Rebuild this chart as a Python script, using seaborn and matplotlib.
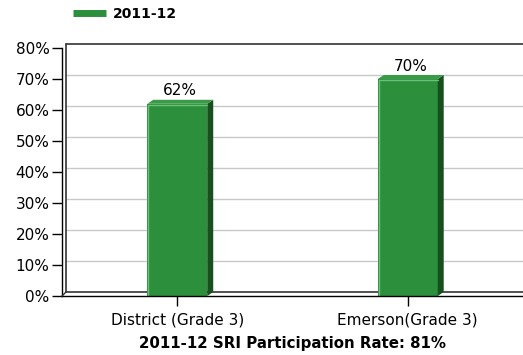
import numpy as np
import pandas as pd
import matplotlib
matplotlib.use("Agg")
import matplotlib.pyplot as plt
import matplotlib.transforms as mtransforms
from matplotlib.patches import Polygon
from matplotlib.lines import Line2D
import seaborn as sns

# data
categories = ["District (Grade 3)", "Emerson(Grade 3)"]
rates = [62, 70]
series_name = "2011-12"
footer = "2011-12 SRI Participation Rate: 81%"

df = pd.DataFrame({"group": categories, "rate": rates})

sns.set_style("white", {"xtick.bottom": True, "ytick.left": True})
plt.rcParams["font.family"] = ["DejaVu Sans"]
plt.rcParams["text.color"] = "black"
plt.rcParams["axes.labelcolor"] = "black"
plt.rcParams["xtick.color"] = "black"
plt.rcParams["ytick.color"] = "black"

face = "#2b8f3c"
side = "#174f1f"
light = "#6cc078"

fig = plt.figure(figsize=(5.23, 3.55), dpi=100)
ax = fig.add_axes([62 / 523, 59 / 355, 461 / 523, 248 / 355])

sns.barplot(data=df, x="group", y="rate", color=face, width=0.26,
            saturation=1, ax=ax, zorder=3, edgecolor="none")

ax.set_ylim(0, 80)
ax.set_xlim(-0.5, 1.5)
ax.set_yticks(np.arange(0, 81, 10))
ax.set_yticklabels([f"{v}%" for v in range(0, 81, 10)], fontsize=11)
ax.tick_params(axis="y", length=7, width=1, color="black", pad=2, left=True)
ax.tick_params(axis="x", length=7, width=1, color="black", labelsize=11, pad=5, bottom=True)
ax.set_xlabel(footer, fontsize=10.8, fontweight="bold", labelpad=6)
ax.set_ylabel("")

for s in ["top", "right"]:
    ax.spines[s].set_visible(False)
for s in ["left", "bottom"]:
    ax.spines[s].set_color("black")
    ax.spines[s].set_linewidth(1)
    ax.spines[s].set_zorder(5)

# back wall of the 3d frame, offset up and right
off = mtransforms.ScaledTranslation(4 / 100, 4 / 100, fig.dpi_scale_trans)
ytr = ax.get_yaxis_transform() + off
xtr = ax.get_xaxis_transform() + off
for v in range(10, 80, 10):
    ax.plot([0, 1], [v, v], color="#c8c8c8", lw=1, zorder=1, transform=ytr)
ax.plot([0, 1], [80, 80], color="#333333", lw=1.2, zorder=2, transform=ytr, clip_on=False)
ax.plot([0, 1], [0, 0], color="#333333", lw=1.2, zorder=2, transform=ytr)
ax.plot([-0.5, -0.5], [0, 1], color="#333333", lw=1.2, zorder=2, transform=xtr, clip_on=False)
corner = Line2D([0, 0.04], [0, 0.04], color="#333333", lw=1, zorder=2,
                transform=fig.dpi_scale_trans + mtransforms.Affine2D().translate(62, 59))
fig.add_artist(corner)

# 3d sides and tops of the bars
inv = ax.transData.inverted()
p0 = inv.transform(ax.transData.transform((0, 0)) + np.array([6, 4]))
dx, dy = p0[0], p0[1]
for p in ax.patches[:len(rates)]:
    x0, w, h = p.get_x(), p.get_width(), p.get_height()
    x1 = x0 + w
    ax.add_patch(Polygon([(x1, 0), (x1 + dx, dy), (x1 + dx, h + dy), (x1, h)],
                         closed=True, color=side, zorder=3, lw=0))
    ax.add_patch(Polygon([(x0, h), (x0 + dx, h + dy), (x1 + dx, h + dy), (x1, h)],
                         closed=True, color="#3a9a48", zorder=3, lw=0))
    ax.plot([x0 + 0.004, x0 + 0.004, x1], [0, h - 0.3, h - 0.3], color=light, lw=1, zorder=4)
    ax.annotate(f"{h:.0f}%", (x0 + w / 2 + dx / 2, h + dy), xytext=(0, 1),
                textcoords="offset points", ha="center", va="bottom", fontsize=11)

handle = Line2D([], [], color=face, lw=5, solid_capstyle="butt")
fig.legend([handle], [series_name], loc="upper left", bbox_to_anchor=(0.115, 1.015),
           frameon=False, handlelength=2.4, handletextpad=0.5,
           prop={"weight": "bold", "size": 10})

fig.savefig("out.png", dpi=100)
